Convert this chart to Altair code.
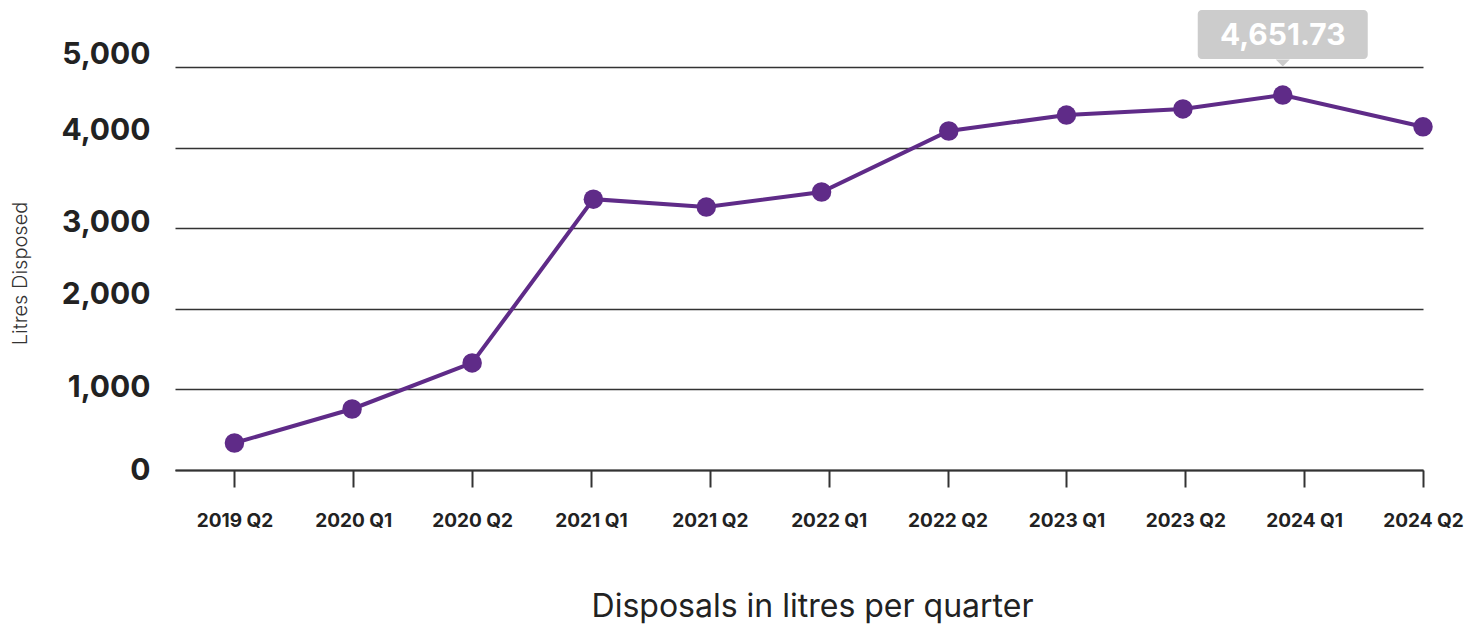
import altair as alt
import pandas as pd

quarters = ["2019 Q2", "2020 Q1", "2020 Q2", "2021 Q1", "2021 Q2", "2022 Q1",
            "2022 Q2", "2023 Q1", "2023 Q2", "2024 Q1", "2024 Q2"]
# horizontal position of each reading, in category steps (readings sit slightly off their tick)
positions = [0, 0.99, 2.0, 3.02, 3.97, 4.94, 6.01, 7.0, 7.98, 8.82, 10]
litres = [335, 757, 1328, 3360, 3262, 3449, 4206, 4404, 4480, 4651.73, 4258]
y_ticks = [0, 1000, 2000, 3000, 4000, 5000]

df = pd.DataFrame({"pos": positions, "quarter": quarters, "litres": litres})
peak = max(litres)

PURPLE = "#5f2b88"
DARK = "#222222"
GRID = "#333333"
FONT = "Inter"

# vertical nudges of the y labels as drawn in the original
y_label_nudge = {0: 0, 1000: -2, 2000: -14, 3000: -6, 4000: -17, 5000: -13}
label_offset = {
    "condition": [{"test": f"datum.value == {v}", "value": o} for v, o in y_label_nudge.items()],
    "value": 0,
}

label_expr = "[" + ",".join("'" + q + "'" for q in quarters) + "][round(datum.value)]"

x_enc = alt.X(
    "pos:Q",
    scale=alt.Scale(domain=[-0.5, len(quarters) - 1], nice=False, zero=False),
    axis=alt.Axis(
        values=list(range(len(quarters))),
        labelExpr=label_expr,
        labelFlush=False, labelOverlap=False,
        grid=False,
        domainColor=GRID, domainWidth=2,
        tickColor=GRID, tickWidth=2, tickSize=17,
        labelPadding=24, labelFontSize=19, labelFontWeight="bold", labelColor=DARK,
        labelFont=FONT,
        title="Disposals in litres per quarter",
        titleFontSize=32, titleFontWeight="normal", titleColor=DARK, titleFont=FONT,
        titleX=637, titleY=136, titleAlign="center", titleBaseline="middle",
    ),
)
y_enc = alt.Y(
    "litres:Q",
    scale=alt.Scale(domain=[0, 5000], nice=False),
    axis=alt.Axis(
        values=y_ticks, format=",.0f",
        grid=True, gridColor=GRID, gridWidth=1.5,
        domain=False, ticks=False,
        labelPadding=25, labelFontSize=30, labelFontWeight="bold", labelColor=DARK,
        labelFont=FONT, labelOffset=label_offset, labelFlush=False,
        title="Litres Disposed",
        titleFontSize=20, titleFontWeight=300, titleColor="#333333", titleFont=FONT,
        titleX=-155, titleY=206, titleAngle=270, titleAlign="center", titleBaseline="middle",
    ),
)

base = alt.Chart(df)
line = base.mark_line(color=PURPLE, strokeWidth=4).encode(x=x_enc, y=y_enc)
points = base.mark_point(filled=True, color=PURPLE, size=380, opacity=1).encode(x="pos:Q", y="litres:Q")

hl = base.transform_filter(alt.datum.litres == peak)
box = hl.mark_rect(color="#cccccc", cornerRadius=4, xOffset=-85, x2Offset=85,
                   yOffset=-85, y2Offset=-36).encode(
    x="pos:Q", x2=alt.X2("pos"), y="litres:Q", y2=alt.Y2("litres"))
pointer = hl.mark_point(shape="M-1,-0.5L1,-0.5L0,0.5Z", filled=True, size=196,
                        color="#cccccc", opacity=1, yOffset=-32).encode(x="pos:Q", y="litres:Q")
label = hl.mark_text(color="white", fontSize=30, fontWeight="bold", font=FONT,
                     baseline="middle", align="center", dy=-59).encode(
    x="pos:Q", y="litres:Q", text=alt.Text("litres:Q", format=",.2f"))

chart = alt.layer(line, points, box, pointer, label).properties(
    width=1248, height=403,
    padding={"left": 167, "top": 59, "right": 45, "bottom": 157},
    autosize=alt.AutoSizeParams(type="none"),
).configure(font=FONT, background="white").configure_view(stroke=None)

chart.save("out.html", embed_options={"renderer": "svg", "actions": False})
